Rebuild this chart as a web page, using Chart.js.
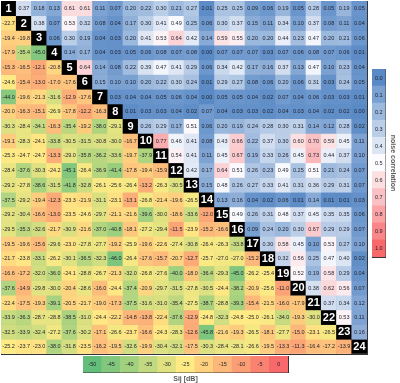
<!DOCTYPE html>
<html>
<head>
<meta charset="utf-8">
<script src="https://cdn.jsdelivr.net/npm/chart.js@4.4.1/dist/chart.umd.min.js"></script>
<style>
  body { margin: 0; background: #fff; }
  #wrap { position: relative; width: 400px; height: 383px; }
  #wrap > div { position: absolute; }
</style>
</head>
<body>
<div id="wrap">
  <div style="left:0;top:0;width:368px;height:355px"><canvas id="matrix"></canvas></div>
  <div style="left:371px;top:68px;width:29px;height:198px"><canvas id="corrLegend"></canvas></div>
  <div style="left:74px;top:355px;width:215px;height:28px"><canvas id="dbLegend"></canvas></div>
</div>
<script>
// channel names (diagonal)
const channels = ['1','2','3','4','5','6','7','8','9','10','11','12','13','14','15','16','17','18','19','20','21','22','23','24'];

// upper triangle: noise correlation, row k holds columns k+1..24
const corrRows = [
  [0.37,0.18,0.13,0.61,0.61,0.11,0.07,0.20,0.22,0.30,0.21,0.27,0.01,0.25,0.25,0.09,0.06,0.19,0.05,0.28,0.05,0.19,0.05],
  [0.38,0.07,0.53,0.32,0.08,0.04,0.17,0.30,0.41,0.49,0.25,0.06,0.30,0.37,0.15,0.11,0.34,0.10,0.37,0.08,0.11,0.04],
  [0.06,0.30,0.19,0.04,0.03,0.20,0.41,0.53,0.64,0.42,0.14,0.59,0.55,0.20,0.20,0.44,0.23,0.47,0.20,0.21,0.06],
  [0.14,0.17,0.04,0.03,0.05,0.06,0.08,0.07,0.08,0.00,0.07,0.07,0.07,0.03,0.07,0.06,0.08,0.07,0.06,0.01],
  [0.64,0.14,0.08,0.22,0.39,0.47,0.41,0.29,0.06,0.34,0.42,0.17,0.16,0.37,0.13,0.47,0.10,0.23,0.04],
  [0.15,0.10,0.10,0.20,0.22,0.30,0.24,0.01,0.29,0.27,0.08,0.06,0.20,0.06,0.31,0.03,0.24,0.05],
  [0.03,0.04,0.04,0.05,0.06,0.04,0.00,0.05,0.05,0.04,0.02,0.07,0.04,0.06,0.03,0.03,0.01],
  [0.01,0.03,0.03,0.04,0.02,0.07,0.04,0.03,0.03,0.02,0.04,0.03,0.04,0.02,0.02,0.00],
  [0.26,0.29,0.17,0.51,0.06,0.20,0.19,0.24,0.28,0.30,0.31,0.14,0.12,0.28,0.02],
  [0.77,0.46,0.41,0.08,0.43,0.66,0.22,0.37,0.30,0.60,0.70,0.59,0.45,0.11],
  [0.54,0.41,0.11,0.45,0.67,0.19,0.33,0.26,0.45,0.73,0.44,0.37,0.10],
  [0.42,0.17,0.64,0.51,0.26,0.23,0.49,0.25,0.51,0.21,0.24,0.07],
  [0.15,0.48,0.26,0.27,0.33,0.41,0.31,0.36,0.29,0.31,0.07],
  [0.13,0.16,0.04,0.02,0.06,0.01,0.14,0.01,0.01,0.03],
  [0.49,0.26,0.31,0.48,0.37,0.45,0.35,0.35,0.06],
  [0.09,0.24,0.20,0.30,0.67,0.29,0.29,0.07],
  [0.30,0.58,0.45,0.10,0.53,0.27,0.10],
  [0.32,0.56,0.25,0.47,0.40,0.02],
  [0.52,0.19,0.58,0.29,0.04],
  [0.38,0.62,0.56,0.07],
  [0.37,0.34,0.12],
  [0.53,0.11],
  [0.16]
];

// lower triangle: Sij in dB, row k (from 2) holds columns 1..k-1
const sijRows = [
  [-22.7],
  [-19.4,-19.8],
  [-17.9,-35.4,-45.0],
  [-15.3,-16.5,-12.1,-20.8],
  [-24.6,-15.4,-13.0,-17.0,-17.6],
  [-44.0,-19.6,-21.3,-31.6,-12.9,-17.6],
  [-20.0,-16.3,-15.1,-26.9,-17.8,-12.2,-16.3],
  [-30.3,-28.4,-34.1,-16.3,-35.4,-19.2,-38.0,-29.1],
  [-19.1,-28.3,-24.1,-33.8,-30.5,-31.5,-30.8,-30.0,-16.7],
  [-25.3,-24.7,-24.7,-13.3,-29.0,-35.8,-36.2,-33.6,-19.7,-37.9],
  [-28.4,-37.6,-30.3,-24.2,-45.1,-26.4,-36.9,-41.4,-17.8,-19.4,-15.9],
  [-29.2,-27.8,-38.6,-31.5,-41.8,-32.8,-26.1,-25.6,-26.4,-13.2,-26.3,-30.5],
  [-37.5,-29.2,-19.4,-12.3,-23.3,-21.9,-31.1,-23.1,-13.1,-26.8,-21.4,-19.6,-26.5],
  [-29.2,-30.4,-16.6,-13.0,-23.5,-24.6,-29.7,-21.1,-21.6,-39.6,-30.0,-18.6,-33.6,-12.0],
  [-29.5,-35.3,-32.6,-21.7,-30.9,-21.6,-37.0,-40.8,-18.1,-27.2,-29.4,-11.5,-23.9,-15.2,-16.6],
  [-19.5,-19.6,-15.6,-29.6,-23.0,-27.8,-27.7,-19.2,-25.9,-19.6,-22.6,-27.4,-30.8,-26.4,-26.3,-33.8],
  [-21.7,-23.8,-33.1,-26.2,-30.1,-36.5,-32.3,-46.0,-26.4,-17.6,-15.7,-20.7,-12.7,-25.7,-27.0,-27.0,-15.2],
  [-16.6,-17.2,-32.0,-36.0,-24.1,-28.8,-26.7,-21.3,-32.0,-26.8,-27.6,-40.0,-18.0,-36.4,-29.3,-45.0,-26.2,-25.4],
  [-37.6,-14.9,-29.8,-30.0,-20.4,-28.6,-16.0,-24.4,-37.4,-20.9,-29.7,-31.5,-27.8,-30.5,-24.4,-38.2,-20.9,-25.6,-11.0],
  [-22.4,-17.5,-19.3,-39.1,-20.5,-21.7,-19.0,-17.3,-37.5,-31.6,-31.0,-35.4,-27.5,-38.7,-28.8,-39.3,-15.4,-21.5,-16.0,-17.9],
  [-33.9,-36.3,-28.7,-28.8,-38.5,-31.0,-24.4,-22.2,-14.8,-13.8,-22.4,-37.6,-12.9,-24.8,-32.3,-24.8,-25.0,-26.1,-34.0,-19.3,-30.0],
  [-32.5,-33.9,-32.4,-27.2,-37.6,-30.2,-17.1,-26.6,-23.7,-16.6,-24.3,-28.3,-12.6,-45.8,-21.6,-19.3,-26.5,-18.1,-27.7,-15.0,-23.1,-26.5],
  [-25.2,-23.7,-23.0,-38.0,-31.8,-23.5,-16.2,-19.5,-32.6,-19.9,-30.4,-32.1,-17.5,-30.3,-28.4,-28.1,-26.6,-19.5,-13.3,-11.3,-16.4,-17.2,-13.9]
];

// legend tick labels
const corrTicks = [0.0,0.1,0.2,0.3,0.4,0.5,0.6,0.7,0.8,0.9,1.0];
const dbTicks = [-50,-45,-40,-35,-30,-25,-20,-15,-10,-5,0];

const FONT = '"Liberation Sans", Arial, sans-serif';
const GRID = '#343434';
const SMALL = '5.5px ' + FONT;
const TEXT = '#1f1f2a';

// 3-point colour scales
function mix(a, b, t) {
    return 'rgb(' + a.map((v, k) => Math.round(v + (b[k] - v) * t)).join(',') + ')';
}
function scale3(lo, mid, hi, t) {
    t = Math.max(0, Math.min(1, t));
    return t <= 0.5 ? mix(lo, mid, t * 2) : mix(mid, hi, (t - 0.5) * 2);
}
function corrColor(v) {
    return scale3([90,138,198], [252,252,255], [248,105,107], v);
}
function dbColor(v) {
    return scale3([99,190,123], [255,235,132], [248,105,107], (v + 50) / 50);
}

function cellValue(i, j) {
    if (i === j) return null;
    if (j > i) return corrRows[i][j - i - 1];
    return sijRows[i - 1][j];
}

const n = channels.length;

// writes text in the middle of every bar; textFor(i, j) gives {label, color, font}
function cellText(textFor) {
    return {
        id: 'cellText',
        afterDraw(chart) {
            const ctx = chart.ctx;
            const horiz = chart.options.indexAxis === 'y';
            ctx.save();
            ctx.textAlign = 'center';
            ctx.textBaseline = 'middle';
            chart.data.datasets.forEach((ds, i) => {
                chart.getDatasetMeta(i).data.forEach((bar, j) => {
                    const p = bar.getProps(['x', 'y', 'base'], true);
                    const cx = horiz ? (p.x + p.base) / 2 : p.x;
                    const cy = horiz ? p.y : (p.y + p.base) / 2;
                    const t = textFor(i, j);
                    ctx.fillStyle = t.color;
                    ctx.font = t.font;
                    ctx.fillText(t.label, cx, cy + 0.5);
                });
            });
            ctx.restore();
        }
    };
}

const hiddenTicks = { display: false };
const noPlugins = { legend: { display: false }, tooltip: { enabled: false } };

new Chart(document.getElementById('matrix'), {
    type: 'bar',
    data: {
        labels: channels,
        datasets: channels.map((ch, i) => ({
            label: ch,
            data: channels.map(() => [n - 1 - i, n - i]),
            backgroundColor: channels.map((c, j) => {
                if (i === j) return '#000';
                return j > i ? corrColor(cellValue(i, j)) : dbColor(cellValue(i, j));
            }),
            borderWidth: 0,
            barPercentage: 1,
            categoryPercentage: 1,
            grouped: false
        }))
    },
    options: {
        responsive: true,
        maintainAspectRatio: false,
        animation: false,
        layout: { padding: 1 },
        plugins: noPlugins,
        scales: {
            x: {
                z: 1,
                ticks: hiddenTicks,
                grid: { offset: true, color: GRID, lineWidth: 1, drawTicks: false },
                border: { display: true, color: GRID, width: 1 }
            },
            y: {
                z: 1,
                min: 0,
                max: n,
                ticks: { display: false, stepSize: 1, maxTicksLimit: 100 },
                grid: { color: GRID, lineWidth: 1, drawTicks: false },
                border: { display: true, color: GRID, width: 1 }
            }
        }
    },
    plugins: [cellText((i, j) => {
        if (i === j) return { label: channels[j], color: '#fff', font: 'bold 11px ' + FONT };
        const v = cellValue(i, j);
        return { label: j > i ? v.toFixed(2) : v.toFixed(1), color: TEXT, font: SMALL };
    })]
});

// noise correlation legend (vertical)
new Chart(document.getElementById('corrLegend'), {
    type: 'bar',
    data: {
        labels: corrTicks.map(v => v.toFixed(1)),
        datasets: [{
            data: corrTicks.map(() => [0, 1]),
            backgroundColor: corrTicks.map(corrColor),
            borderWidth: 0,
            barPercentage: 1,
            categoryPercentage: 1
        }]
    },
    options: {
        indexAxis: 'y',
        responsive: true,
        maintainAspectRatio: false,
        animation: false,
        layout: { padding: { top: 1, bottom: 1, left: 1, right: 0 } },
        plugins: noPlugins,
        scales: {
            x: {
                z: 1, min: 0, max: 1,
                ticks: hiddenTicks,
                grid: { display: false },
                border: { display: true, color: GRID }
            },
            y: {
                z: 1,
                position: 'right',
                ticks: hiddenTicks,
                grid: { offset: true, color: GRID, drawTicks: false },
                border: { display: true, color: GRID },
                title: { display: true, text: 'noise correlation', color: '#595959', font: { family: FONT, size: 7, weight: 'bold' }, padding: 3 }
            }
        }
    },
    plugins: [cellText((i, j) => ({ label: corrTicks[j].toFixed(1), color: TEXT, font: SMALL }))]
});

// Sij legend (horizontal)
new Chart(document.getElementById('dbLegend'), {
    type: 'bar',
    data: {
        labels: dbTicks.map(String),
        datasets: [{
            data: dbTicks.map(() => [0, 1]),
            backgroundColor: dbTicks.map(dbColor),
            borderWidth: 0,
            barPercentage: 1,
            categoryPercentage: 1
        }]
    },
    options: {
        responsive: true,
        maintainAspectRatio: false,
        animation: false,
        layout: { padding: { top: 1, left: 1, right: 1, bottom: 0 } },
        plugins: noPlugins,
        scales: {
            x: {
                z: 1,
                ticks: hiddenTicks,
                grid: { offset: true, color: GRID, drawTicks: false },
                border: { display: true, color: GRID },
                title: { display: true, text: 'Sij [dB]', color: '#595959', font: { family: FONT, size: 7, weight: 'bold' }, padding: { top: 2, bottom: 0 } }
            },
            y: {
                z: 1, min: 0, max: 1,
                ticks: hiddenTicks,
                grid: { display: false },
                border: { display: true, color: GRID }
            }
        }
    },
    plugins: [cellText((i, j) => ({ label: String(dbTicks[j]), color: TEXT, font: SMALL }))]
});
</script>
</body>
</html>
